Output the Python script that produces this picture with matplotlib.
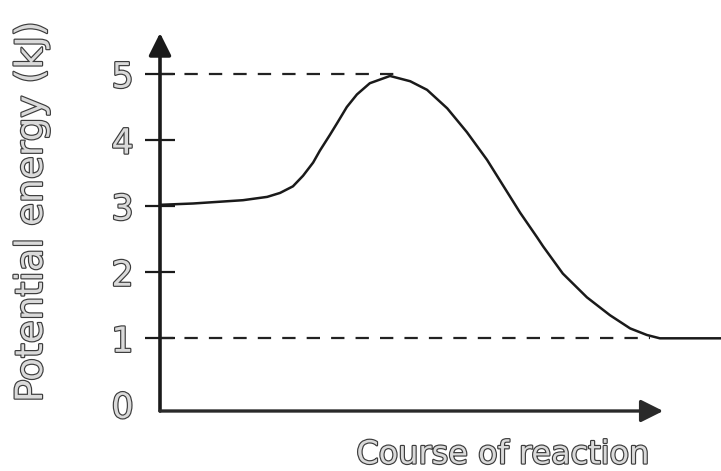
import matplotlib
matplotlib.use('Agg')
import matplotlib.pyplot as plt
import matplotlib.patheffects as pe
import numpy as np

# energy profile (course units 0..100, energy in kJ)
course = [0, 5.9, 14.8, 19.1, 21.4, 23.7, 25.5, 27.3, 28.5, 30.3, 31.6, 33.3,
          35.1, 37.4, 41.0, 44.6, 47.6, 51.2, 54.7, 58.3, 61.1, 64.2,
          67.2, 68.3, 71.8, 76.1, 80.2, 83.8, 86.8, 89.1, 100]
energy = [3.02, 3.04, 3.09, 3.14, 3.20, 3.30, 3.46, 3.66, 3.84, 4.08, 4.26, 4.50,
          4.69, 4.86, 4.97, 4.89, 4.76, 4.48, 4.12, 3.70, 3.32, 2.90,
          2.53, 2.39, 1.98, 1.62, 1.35, 1.15, 1.05, 1.0, 1.0]

peak_level = 5
product_level = 1
peak_dash_end = 42.8
product_dash_end = 87.3
yticks = [0, 1, 2, 3, 4, 5]

ylabel = 'Potential energy (kJ)'
xlabel = 'Course of reaction'

ink = '#1a1a1a'
outline = [pe.Stroke(linewidth=1.7, foreground='#3c3c3c'), pe.Normal()]
txt_fill = '#dadada'

fig = plt.figure(figsize=(7.21, 4.71), dpi=100)
ax = fig.add_axes([160/721, 60/471, 1 - 160/721, (411 - 33)/471])
ax.set_xlim(0, 100)
ax.set_ylim(-0.1, 5.62)
for s in ax.spines.values():
    s.set_visible(False)

# curve and reference levels
ax.plot(course, energy, color=ink, lw=1.8, solid_capstyle='round',
        solid_joinstyle='round')
ax.plot([0, peak_dash_end], [peak_level, peak_level], color='#222222', lw=1.6,
        linestyle=(0, (6, 5)))
ax.plot([0, product_dash_end], [product_level, product_level], color='#222222',
        lw=1.6, linestyle=(0, (6, 5)))

# axes drawn as arrows
ax.annotate('', xy=(0, 5.62), xytext=(0, -0.1), xycoords='data',
            arrowprops=dict(arrowstyle='-|>', color=ink, lw=2.6,
                            mutation_scale=34, shrinkA=0, shrinkB=0),
            annotation_clip=False)
ax.annotate('', xy=(89.7, -0.1), xytext=(0, -0.1), xycoords='data',
            arrowprops=dict(arrowstyle='-|>', color='#2a2a2a', lw=2.4,
                            mutation_scale=34, shrinkA=0, shrinkB=0),
            annotation_clip=False)

ax.set_xticks([])
ax.set_yticks(yticks)
ax.set_yticklabels([str(t) for t in yticks])
ax.tick_params(axis='y', direction='inout', length=22, width=1.6, color=ink,
               pad=8, labelsize=25, labelcolor=txt_fill)
ax.yaxis.get_major_ticks()[0].tick1line.set_visible(False)
for lab in ax.get_yticklabels():
    lab.set_path_effects(outline)

fig.text(32/721, 1 - 212/471, ylabel, rotation=90, ha='center', va='center',
         fontsize=27, color=txt_fill, path_effects=outline)
fig.text(503/721, 1 - 455/471, xlabel, ha='center', va='center',
         fontsize=23, color=txt_fill, path_effects=outline)

fig.savefig('out.png', dpi=100)
